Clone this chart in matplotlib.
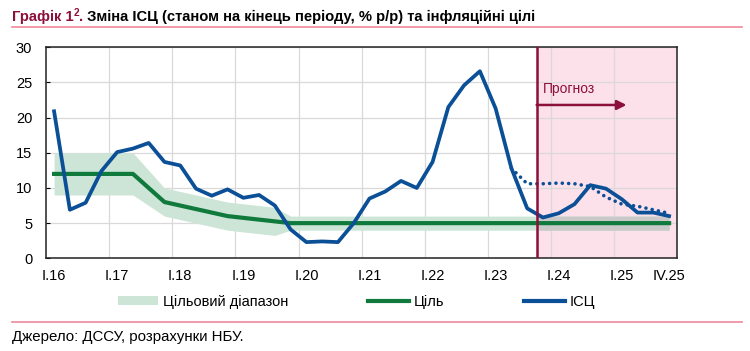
# CPI vs inflation targets, with forecast
import numpy as np
import matplotlib.pyplot as plt
from matplotlib.patches import Patch, Rectangle
from matplotlib.lines import Line2D

plt.rcParams['font.family'] = ['Liberation Sans Narrow', 'Liberation Sans', 'DejaVu Sans']

# quarters I.16 .. IV.25
quarters = [f"{q}.{y}" for y in range(16, 26) for q in ["I", "II", "III", "IV"]]
tick_labels = ["I.16", "I.17", "I.18", "I.19", "I.20", "I.21", "I.22", "I.23", "I.24", "I.25", "IV.25"]

# CPI, % y/y (actual up to III.23, then forecast)
cpi = [20.9, 6.9, 7.9, 12.4, 15.1, 15.6, 16.4, 13.7, 13.2, 9.9, 8.9, 9.8,
       8.6, 9.0, 7.5, 4.1, 2.3, 2.4, 2.3, 5.0, 8.5, 9.5, 11.0, 10.0,
       13.7, 21.5, 24.6, 26.6, 21.3, 12.8, 7.1,
       5.8, 6.4, 7.7, 10.4, 9.9, 8.4, 6.5, 6.5, 6.0]
# previous forecast (dotted), from II.23
prev_start = "II.23"
cpi_prev = [12.8, 10.6, 10.6, 10.7, 10.6, 10.2, 8.7, 7.7, 7.4, 6.9, 6.4]

# inflation target and target range
target = [12, 12, 12, 12, 12, 12, 10, 8, 7.5, 7, 6.5, 6, 5.75, 5.5, 5.25] + [5] * 25
band_lo = [9, 9, 9, 9, 9, 9, 7.5, 6, 5.5, 5, 4.5, 4, 3.75, 3.5, 3.25] + [4] * 25
band_hi = [15, 15, 15, 15, 15, 15, 12.5, 10, 9.5, 9, 8.5, 8, 7.75, 7.5, 7.25] + [6] * 25

forecast_pos = 30.6   # forecast starts between III.23 and IV.23

blue = "#0b4f97"
green = "#0f7a3c"
band_c = "#cde5d7"
band_fc = "#c9c9c9"
maroon = "#8c0f3c"
pink = "#fde1ea"
pinkline = "#f0879b"

x = np.arange(len(quarters))
i0 = quarters.index(prev_start)
xp = np.arange(i0, i0 + len(cpi_prev))

fig = plt.figure(figsize=(7.5, 3.51), dpi=100)
W, H = 750, 351
ax = fig.add_axes([46.2 / W, 1 - 258.3 / H, (677 - 46.2) / W, (258.3 - 47.3) / H])

ax.axvspan(forecast_pos, len(quarters) - 0.5, color=pink, lw=0, zorder=0.1)
ax.set_axisbelow(True)
ax.grid(True, color="#d9d9d9", lw=0.9)

ax.fill_between(x, band_lo, band_hi, color=band_c, lw=0, zorder=1)
grey = ax.fill_between(x, band_lo, band_hi, color=band_fc, lw=0, zorder=1.1)
grey.set_clip_path(Rectangle((forecast_pos, -5), 20, 50, transform=ax.transData))

ax.plot(x, target, color=green, lw=3, zorder=2)
ax.plot(xp, cpi_prev, color=blue, lw=2.6, ls=(0, (0.01, 1.75)),
        dash_capstyle="round", zorder=2.5)
ax.plot(x, cpi, color=blue, lw=2.7, zorder=3, solid_joinstyle="round")

ax.axvline(forecast_pos, color=maroon, lw=1.8, zorder=4)
ax.annotate("", xy=(36.3, 21.8), xytext=(forecast_pos, 21.8),
            arrowprops=dict(arrowstyle="-|>", color=maroon, lw=1.8,
                            mutation_scale=14, shrinkA=0, shrinkB=0), zorder=4)
ax.text(31.0, 24.0, "Прогноз", color=maroon, fontsize=10, va="center", ha="left")

ax.set_xlim(-0.5, len(quarters) - 0.5)
ax.set_ylim(0, 30)
ax.set_yticks(range(0, 31, 5))
ax.set_xticks([quarters.index(t) for t in tick_labels])
ax.set_xticklabels(tick_labels)
ax.set_xticks(np.arange(3.5, len(quarters) - 1, 4), minor=True)
ax.grid(False, axis="x", which="major")
ax.grid(True, axis="x", which="minor", color="#d9d9d9", lw=0.9)
ax.tick_params(axis="x", which="both", length=0, pad=8, labelsize=10.5)
ax.tick_params(axis="y", direction="in", length=3, pad=10, labelsize=10.5)
for s in ax.spines.values():
    s.set_color("#222222")
    s.set_linewidth(1.1)

# legend
handles = [Patch(facecolor=band_c, edgecolor="none"),
           Line2D([], [], color=green, lw=3),
           Line2D([], [], color=blue, lw=3)]
names = ["Цільовий діапазон", "Ціль", "ІСЦ"]
fig.legend(handles, names, loc="center", bbox_to_anchor=(0.475, 1 - 302 / H),
           ncol=3, frameon=False, fontsize=10.5, handlelength=2.8,
           handleheight=0.6, handletextpad=0.3, columnspacing=5.5)

# title
r = fig.canvas.get_renderer()
ty = 1 - 21 / H
tfont = ["Liberation Sans", "DejaVu Sans"]
t1 = fig.text(12 / W, ty, "Графік 1", color=maroon, fontsize=10.6, fontweight="bold",
              family=tfont)
bb = t1.get_window_extent(r)
t2 = fig.text(bb.x1 / W, ty + 5 / H, "2", color=maroon, fontsize=7.2, fontweight="bold",
              family=tfont)
bb = t2.get_window_extent(r)
t3 = fig.text(bb.x1 / W, ty, ".", color=maroon, fontsize=10.6, fontweight="bold",
              family=tfont)
bb = t3.get_window_extent(r)
fig.text(bb.x1 / W, ty, " Зміна ІСЦ (станом на кінець періоду, % р/р) та інфляційні цілі",
         color="black", fontsize=10.6, fontweight="bold", family=tfont)
fig.add_artist(Line2D([12 / W, 742 / W], [1 - 26.5 / H] * 2, color=pinkline, lw=1.2))
fig.add_artist(Line2D([12 / W, 742 / W], [1 - 322 / H] * 2, color=pinkline, lw=1.2))
fig.text(12 / W, 1 - 337 / H, "Джерело: ДССУ, розрахунки НБУ.", fontsize=10.8,
         va="center", ha="left")

fig.savefig("out.png", dpi=100)
